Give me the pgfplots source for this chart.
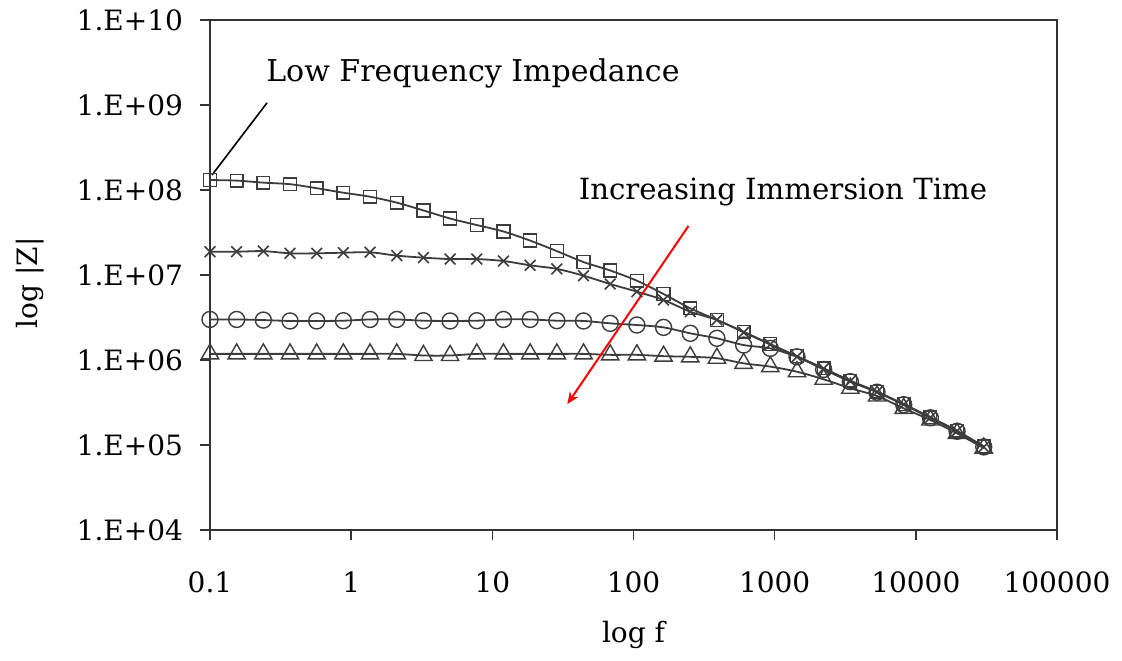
\documentclass[border=0pt]{standalone}
\usepackage{fontspec}
\setmainfont{DejaVu Serif}
\usepackage{pgfplots}
\pgfplotsset{compat=1.18}
\usepackage{pgfplotstable}
\usetikzlibrary{arrows.meta}
\definecolor{ln}{HTML}{3C3C3C}
\definecolor{ax}{HTML}{333333}

\pgfplotstableread{
f      sq      cr      ci      tr
0.1    1.31e8  1.88e7  3.00e6  1.18e6
0.1545 1.29e8  1.88e7  3.00e6  1.18e6
0.2388 1.22e8  1.91e7  2.95e6  1.18e6
0.369  1.17e8  1.80e7  2.88e6  1.18e6
0.570  1.05e8  1.80e7  2.88e6  1.18e6
0.881  9.29e7  1.83e7  2.90e6  1.18e6
1.361  8.34e7  1.85e7  3.00e6  1.18e6
2.104  7.10e7  1.69e7  3.00e6  1.18e6
3.251  5.75e7  1.60e7  2.90e6  1.13e6
5.023  4.62e7  1.54e7  2.88e6  1.13e6
7.762  3.87e7  1.54e7  2.90e6  1.18e6
11.99  3.25e7  1.46e7  3.00e6  1.18e6
18.54  2.54e7  1.30e7  3.00e6  1.18e6
28.64  1.91e7  1.18e7  2.90e6  1.18e6
44.26  1.42e7  9.82e6  2.88e6  1.18e6
68.39  1.13e7  7.83e6  2.70e6  1.15e6
105.7  8.57e6  6.37e6  2.58e6  1.15e6
163.3  5.97e6  5.08e6  2.42e6  1.11e6
252.4  4.06e6  3.70e6  2.06e6  1.09e6
389.9  2.96e6  2.96e6  1.80e6  1.05e6
602.6  2.15e6  2.12e6  1.50e6  9.14e5
931.1  1.54e6  1.52e6  1.37e6  8.36e5
1439   1.11e6  1.09e6  1.09e6  7.28e5
2223   7.98e5  7.90e5  7.74e5  5.93e5
3436   5.71e5  5.65e5  5.56e5  4.65e5
5309   4.24e5  4.20e5  4.18e5  3.77e5
8204   3.03e5  3.00e5  2.98e5  2.70e5
12677  2.12e5  2.10e5  2.09e5  1.97e5
19588  1.47e5  1.46e5  1.45e5  1.37e5
30269  9.6e4   9.5e4   9.5e4   9.2e4
}\data

\begin{document}
\begin{tikzpicture}
\begin{axis}[
  at={(0,0)}, anchor=south west,
  scale only axis, width=423.5pt, height=255pt,
  xmode=log, ymode=log,
  xmin=0.1, xmax=100000, ymin=1e4, ymax=1e10,
  xminorticks=false, yminorticks=false,
  axis line style={ax, line width=0.7pt},
  tick style={ax, line width=0.7pt},
  tick align=outside, major tick length=5pt,
  tick pos=left,
  xtick={0.1,1,10,100,1000,10000,100000},
  xticklabels={0.1,1,10,100,1000,10000,100000},
  ytick={1e4,1e5,1e6,1e7,1e8,1e9,1e10},
  yticklabels={1.E+04,1.E+05,1.E+06,1.E+07,1.E+08,1.E+09,1.E+10},
  ticklabel style={font=\fontsize{14}{16}\selectfont, text=black},
  xticklabel style={anchor=center, yshift=-21pt},
  yticklabel style={anchor=east, xshift=-5pt},
  xlabel={log f},
  ylabel={log |Z|},
  label style={font=\fontsize{14}{16}\selectfont},
  xlabel style={at={(axis description cs:0.5,-0.206)}, anchor=center},
  ylabel style={at={(axis description cs:-0.2125,0.485)}, anchor=center},
  clip=false,
]
\addplot[ln, line width=0.9pt, smooth, tension=0.5, mark=square, mark size=3.2pt, mark options={solid, line width=0.7pt}] table[x=f, y=sq] {\data};
\addplot[ln, line width=0.9pt, smooth, tension=0.5, mark=x, mark size=3.8pt, mark options={solid, line width=0.8pt}] table[x=f, y=cr] {\data};
\addplot[ln, line width=0.9pt, smooth, tension=0.5, mark=o, mark size=4pt, mark options={solid, line width=0.7pt}] table[x=f, y=ci] {\data};
\addplot[ln, line width=0.9pt, smooth, tension=0.5, mark=triangle, mark size=5pt, mark options={solid, line width=0.7pt}] table[x=f, y=tr] {\data};

\node[anchor=west, font=\fontsize{15}{17}\selectfont, inner sep=0pt] at (axis cs:0.249,2.38e9) {Low Frequency Impedance};
\draw[black, line width=0.8pt] (axis cs:0.2535,1.06e9) -- (axis cs:0.1033,1.5e8);
\node[anchor=west, font=\fontsize{14.6}{17}\selectfont, inner sep=0pt] at (axis cs:40.7,9.46e7) {Increasing Immersion Time};
\draw[red, line width=1pt, -{Stealth[length=6pt,width=5pt]}] (axis cs:245,3.77e7) -- (axis cs:34.0,3.03e5);
\end{axis}
\pgfresetboundingbox
\path (-105pt,-65pt) rectangle (456pt,265pt);
\end{tikzpicture}
\end{document}
